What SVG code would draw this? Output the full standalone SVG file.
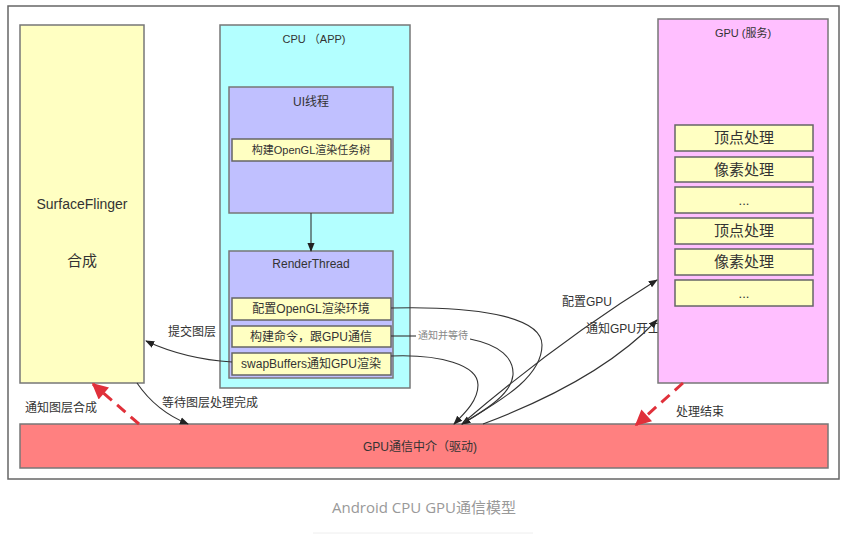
<svg xmlns="http://www.w3.org/2000/svg" width="866" height="541" viewBox="0 0 866 541">
<defs>
<style>
text{font-family:"Liberation Sans","Noto Sans CJK SC",sans-serif;fill:#333;text-anchor:middle}
.box{stroke:#777;stroke-width:1.5}
.y{fill:#ffffc2}
.sub{fill:#ffffc2;stroke:#666;stroke-width:1.5}
.c{fill:none;stroke:#333;stroke-width:1.1}
.d{fill:none;stroke:#e0303a;stroke-width:3;stroke-dasharray:11 7}
.t12{font-size:12px}
.t11{font-size:11px}
.lb{font-size:12px;text-anchor:start}
</style>
<marker id="ah" viewBox="0 0 10 10" refX="9" refY="5" markerWidth="9" markerHeight="9" markerUnits="userSpaceOnUse" orient="auto">
<path d="M0,1 L10,5 L0,9 Z" fill="#222"/>
</marker>
<marker id="rh" viewBox="0 0 10 10" refX="9" refY="5" markerWidth="18" markerHeight="16" markerUnits="userSpaceOnUse" orient="auto">
<path d="M0,0 L10,5 L0,10 Z" fill="#e0303a"/>
</marker>
</defs>
<rect width="866" height="541" fill="#fff"/>
<rect x="8" y="6" width="831" height="473" fill="#fff" stroke="#666" stroke-width="1.5"/>

<g id="surfaceflinger">
<rect class="box y" x="20" y="25" width="124" height="358"/>
<text x="82" y="209" style="font-size:14px">SurfaceFlinger</text>
<text x="82" y="266" style="font-size:15px">合成</text>
</g>

<g id="cpu">
<rect class="box" x="220" y="25" width="190" height="363" fill="#b3ffff"/>
<text class="t11" x="314" y="43">CPU （APP)</text>
</g>

<g id="ui-thread">
<rect class="box" x="229" y="87" width="164" height="126" fill="#c0c0ff"/>
<text class="t12" x="311" y="106">UI线程</text>
<rect class="sub" x="232" y="139" width="159" height="22"/>
<text class="t11" x="311" y="154">构建OpenGL渲染任务树</text>
</g>

<g id="render-thread">
<rect class="box" x="229" y="251" width="164" height="127" fill="#c0c0ff"/>
<text class="t12" x="311" y="268">RenderThread</text>
<rect class="sub" x="232" y="298" width="159" height="22"/>
<text class="t12" x="311" y="313">配置OpenGL渲染环境</text>
<rect class="sub" x="232" y="326" width="159" height="21"/>
<text class="t12" x="311" y="341">构建命令，跟GPU通信</text>
<rect class="sub" x="232" y="353" width="159" height="22"/>
<text class="t12" x="311" y="368">swapBuffers通知GPU渲染</text>
</g>

<g id="connector-labels-under">
<text class="lb" x="586" y="333">通知GPU开工</text>
</g>

<g id="gpu">
<rect class="box" x="658" y="19" width="170" height="364" fill="#ffbfff"/>
<text class="t11" x="743" y="37">GPU (服务)</text>
<rect class="sub" x="675" y="125" width="138" height="26"/>
<text x="744" y="143" style="font-size:15px">顶点处理</text>
<rect class="sub" x="675" y="157" width="138" height="25"/>
<text x="744" y="175" style="font-size:15px">像素处理</text>
<rect class="sub" x="675" y="187" width="138" height="26"/>
<text x="744" y="205" style="font-size:13px">...</text>
<rect class="sub" x="675" y="218" width="138" height="26"/>
<text x="744" y="236" style="font-size:15px">顶点处理</text>
<rect class="sub" x="675" y="249" width="138" height="26"/>
<text x="744" y="267" style="font-size:15px">像素处理</text>
<rect class="sub" x="675" y="280" width="138" height="26"/>
<text x="744" y="298" style="font-size:13px">...</text>
</g>

<g id="driver">
<rect class="box" x="20" y="424" width="808" height="44" fill="#ff8080"/>
<text class="t12" x="420" y="451">GPU通信中介（驱动)</text>
</g>

<g id="connectors">
<path class="c" d="M311,213 V251" marker-end="url(#ah)"/>
<path class="c" d="M232,362 C200,360 172,353 146,341" marker-end="url(#ah)"/>
<path class="c" d="M137,383 Q156,411 188,424" marker-end="url(#ah)"/>
<path class="d" d="M139,424 L93,384" marker-end="url(#rh)"/>
<path class="d" d="M683,383 L636,425" marker-end="url(#rh)"/>
<path class="c" d="M391,308 C470,306 542,315 542,345 C542,380 492,405 462,424" marker-end="url(#ah)"/>
<path class="c" d="M391,336 H416"/>
<path class="c" d="M470,339 C500,345 514,358 513,375 C511,395 485,410 462,424" marker-end="url(#ah)"/>
<path class="c" d="M391,356 C440,354 478,365 478,385 C478,400 466,412 454,424" marker-end="url(#ah)"/>
<path class="c" d="M464,422 Q560,340 657,280" marker-end="url(#ah)"/>
<path class="c" d="M483,424 Q600,380 657,320" marker-end="url(#ah)"/>
</g>

<g id="labels">
<text class="lb" x="168" y="336">提交图层</text>
<text class="lb" x="162" y="407">等待图层处理完成</text>
<text class="lb" x="25" y="412">通知图层合成</text>
<text class="lb" x="676" y="416">处理结束</text>
<text class="lb" x="562" y="306">配置GPU</text>
<text x="418" y="339" style="font-size:10px;fill:#888;text-anchor:start">通知并等待</text>
</g>

<g id="caption">
<text x="424" y="513" style="font-family:'Open Sans','Noto Sans CJK SC',sans-serif;font-size:15px;fill:#999">Android CPU GPU通信模型</text>
<line x1="313" y1="533" x2="533" y2="533" stroke="#eee" stroke-width="1"/>
</g>
</svg>
